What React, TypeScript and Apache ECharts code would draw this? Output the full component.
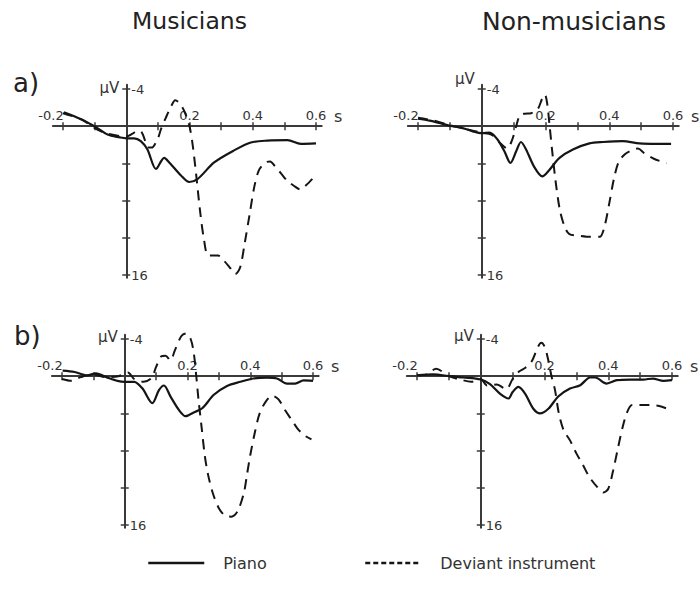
import React, { useEffect, useRef } from 'react';
import * as echarts from 'echarts';

// ---- tick / label values ----
const xTickValues = [-0.2, -0.1, 0, 0.1, 0.2, 0.3, 0.4, 0.5, 0.6];
const xLabelValues = [-0.2, 0.2, 0.4, 0.6];
const yTickValues = [-4, 0, 4, 8, 12, 16];
const yLabelValues = [-4, 16];
const groupTitles = ['Musicians', 'Non-musicians'];
const rowLabels = ['a)', 'b)'];
const seriesNames = ['Piano', 'Deviant instrument'];
const xUnit = 's';
const yUnit = 'µV';

// ---- data: [time (s), amplitude (µV)] ----
const aMusPiano = [
  [-0.197, -1.5], [-0.143, -0.75], [-0.096, 0.1], [-0.059, 0.9], [-0.02, 1.2], [0, 1.3],
  [0.025, 1.3], [0.046, 1.6], [0.067, 2.5], [0.094, 4.6], [0.12, 3.4], [0.136, 3.9],
  [0.173, 5.3], [0.199, 6.0], [0.225, 5.7], [0.278, 3.9], [0.341, 2.6], [0.394, 1.75],
  [0.446, 1.55], [0.51, 1.5], [0.552, 1.9], [0.6, 1.85],
];
const aMusDeviant = [
  [-0.2, -1.4], [-0.14, -0.7], [-0.1, 0.2], [-0.06, 0.8], [0, 1.1], [0.02, 0.8],
  [0.035, 0.5], [0.048, 0.6], [0.06, 1.6], [0.068, 2.3], [0.08, 2.3], [0.1, 1.3],
  [0.11, 0.3], [0.125, -0.9], [0.14, -2.0], [0.155, -2.8], [0.17, -2.4], [0.185, -1.5],
  [0.2, 0], [0.21, 2], [0.222, 5.5], [0.233, 9], [0.245, 12], [0.26, 13.9], [0.29, 13.9],
  [0.31, 14.5], [0.33, 15.3], [0.345, 15.9], [0.36, 15.2], [0.375, 12.5], [0.39, 9.5],
  [0.405, 6.5], [0.42, 4.7], [0.44, 3.9], [0.455, 3.8], [0.47, 4.3], [0.49, 5.1],
  [0.51, 5.9], [0.53, 6.4], [0.55, 6.8], [0.57, 6.3], [0.59, 5.6],
];
const aNonPiano = [
  [-0.2, -0.8], [-0.164, -0.6], [-0.133, -0.35], [-0.1, -0.05], [-0.06, 0.2], [-0.028, 0.55],
  [0, 0.75], [0.024, 0.7], [0.05, 1.45], [0.071, 2.7], [0.09, 3.95], [0.108, 2.7],
  [0.123, 1.7], [0.139, 2.5], [0.165, 4.4], [0.19, 5.4], [0.212, 4.7], [0.244, 3.4],
  [0.286, 2.5], [0.338, 1.85], [0.38, 1.7], [0.442, 1.6], [0.495, 1.85], [0.547, 1.9],
  [0.594, 1.9],
];
const aNonDeviant = [
  [-0.2, -0.9], [-0.15, -0.6], [-0.1, -0.1], [-0.05, 0.3], [0, 0.7], [0.03, 0.9],
  [0.06, 1.9], [0.08, 2.4], [0.095, 1.5], [0.108, 0], [0.12, -1.2], [0.135, -1.35],
  [0.155, -1.4], [0.175, -1.8], [0.19, -3.0], [0.198, -3.4], [0.205, -2.5], [0.213, 0],
  [0.222, 3], [0.232, 6], [0.245, 9], [0.26, 10.8], [0.275, 11.6], [0.31, 11.8],
  [0.34, 11.9], [0.37, 11.9], [0.385, 10.8], [0.4, 8.3], [0.415, 5.6], [0.43, 3.8],
  [0.45, 3.0], [0.47, 2.6], [0.49, 2.4], [0.51, 2.9], [0.54, 3.5], [0.58, 4.0],
];
const bMusPiano = [
  [-0.198, -0.6], [-0.16, -0.45], [-0.12, -0.1], [-0.092, -0.3], [-0.055, 0.15], [-0.023, 0.5],
  [0, 0.6], [0.03, 0.6], [0.056, 1.3], [0.088, 2.9], [0.109, 1.5], [0.125, 1.0],
  [0.146, 2.2], [0.173, 3.65], [0.194, 4.3], [0.22, 3.9], [0.247, 3.45], [0.284, 2.0],
  [0.326, 1.05], [0.369, 0.6], [0.41, 0.25], [0.453, 0.15], [0.485, 0.25], [0.517, 0.8],
  [0.543, 0.8], [0.57, 0.45], [0.6, 0.5],
];
const bMusDeviant = [
  [-0.2, 0.3], [-0.17, 0.5], [-0.14, 0.1], [-0.1, -0.2], [-0.06, 0.1], [-0.02, 0.0],
  [0.01, -0.4], [0.03, 0.3], [0.06, 0.6], [0.085, 0.2], [0.1, -1.0], [0.115, -2.1],
  [0.13, -2.2], [0.145, -1.7], [0.16, -2.8], [0.18, -4.3], [0.195, -4.6], [0.21, -4.0],
  [0.22, -2.5], [0.228, 0], [0.235, 2.5], [0.245, 5.5], [0.255, 8.5], [0.265, 10.5],
  [0.28, 12.5], [0.3, 14.2], [0.32, 15.0], [0.34, 15.1], [0.36, 14.5], [0.38, 12.5],
  [0.39, 10.5], [0.4, 8.5], [0.415, 6.0], [0.43, 4.0], [0.45, 2.7], [0.47, 2.1],
  [0.49, 2.5], [0.51, 3.6], [0.53, 4.6], [0.55, 5.6], [0.57, 6.3], [0.595, 6.8],
];
const bNonPiano = [
  [-0.2, -0.1], [-0.149, -0.2], [-0.096, 0], [-0.054, 0.14], [0, 0.36], [0.029, 0.86],
  [0.06, 1.87], [0.087, 2.4], [0.1, 1.7], [0.118, 1.15], [0.139, 1.87], [0.165, 3.5],
  [0.186, 4.0], [0.212, 3.5], [0.244, 2.15], [0.28, 1.33], [0.312, 0.97], [0.343, 0.14],
  [0.359, 0.14], [0.395, 0.79], [0.427, 0.43], [0.469, 0.36], [0.51, 0.36], [0.54, 0.25],
  [0.573, 0.5], [0.6, 0.43],
];
const bNonDeviant = [
  [-0.2, -0.1], [-0.17, -0.2], [-0.14, -0.8], [-0.1, 0], [-0.06, 0.4], [-0.03, 0.6],
  [0, 0.3], [0.02, 1.0], [0.05, 0.9], [0.08, 1.4], [0.1, 0.3], [0.12, -0.5], [0.14, -0.9],
  [0.16, -1.6], [0.18, -3.2], [0.19, -3.6], [0.2, -3.2], [0.21, -2.0], [0.222, 0],
  [0.233, 1.5], [0.245, 4.0], [0.26, 5.8], [0.28, 6.9], [0.3, 8.3], [0.32, 9.5],
  [0.34, 10.8], [0.365, 11.9], [0.385, 12.5], [0.4, 12.1], [0.415, 10.2], [0.43, 7.8],
  [0.445, 5.5], [0.46, 3.8], [0.475, 3.1], [0.5, 3.1], [0.53, 3.1], [0.56, 3.2],
  [0.585, 3.5],
];

// ---- layout (pixel positions of t=-0.2, t=0.6, v=-4, v=16 for each panel) ----
const PANELS = [
  { piano: aMusPiano, deviant: aMusDeviant, x0: 63, x1: 316, y0: 89, y1: 275, unitDy: -1 },
  { piano: aNonPiano, deviant: aNonDeviant, x0: 418, x1: 673, y0: 89, y1: 275, unitDy: -10 },
  { piano: bMusPiano, deviant: bMusDeviant, x0: 62, x1: 313, y0: 339, y1: 525, unitDy: -2 },
  { piano: bNonPiano, deviant: bNonDeviant, x0: 417, x1: 672, y0: 339, y1: 525, unitDy: -3 },
];
const XMIN = -0.232;
const XMAX = 0.618;
const YMIN = -4.45;
const YMAX = 16.3;

const FONT = 'DejaVu Sans';
const AX = '#3a3a3a';
const TXT = '#333';
const LINE = '#151515';

function buildOption() {
  const grid: any[] = [];
  const xAxis: any[] = [];
  const yAxis: any[] = [];
  const series: any[] = [];
  const graphic: any[] = [];

  PANELS.forEach((p, i) => {
    const sx = (p.x1 - p.x0) / 0.8;
    const sy = (p.y1 - p.y0) / 20;
    const g = {
      left: p.x0 + (XMIN + 0.2) * sx,
      top: p.y0 + (YMIN + 4) * sy,
      width: (XMAX - XMIN) * sx,
      height: (YMAX - YMIN) * sy,
    };
    const zx = p.x0 + 0.2 * sx;
    const zy = p.y0 + 4 * sy;
    grid.push({ ...g, containLabel: false, outerBoundsMode: 'none' });

    const tickStyle = { color: AX, width: 1.5 };
    xAxis.push({
      type: 'value', gridIndex: i, position: 'top', min: XMIN, max: XMAX,
      offset: g.top - zy,
      axisLine: { show: true, onZero: false, lineStyle: { color: AX, width: 2 } },
      axisTick: { show: true, customValues: xTickValues, length: 4, lineStyle: tickStyle },
      axisLabel: {
        show: true, customValues: xLabelValues, margin: 4, color: TXT, fontSize: 13, fontFamily: FONT,
        formatter: (v: number) => (v < 0 ? `{neg|${v.toFixed(1)}}` : v.toFixed(1)),
        rich: { neg: { padding: [0, 24, 0, 0], color: TXT, fontSize: 13, fontFamily: FONT } },
      },
      splitLine: { show: false },
    });
    xAxis.push({
      type: 'value', gridIndex: i, position: 'bottom', min: XMIN, max: XMAX,
      offset: zy - (g.top + g.height),
      axisLine: { show: false, onZero: false },
      axisTick: { show: true, customValues: xTickValues, length: 4, lineStyle: tickStyle },
      axisLabel: { show: false },
      splitLine: { show: false },
    });
    yAxis.push({
      type: 'value', gridIndex: i, position: 'right', min: YMIN, max: YMAX, inverse: true,
      offset: zx - (g.left + g.width),
      axisLine: { show: true, onZero: false, lineStyle: { color: AX, width: 2 } },
      axisTick: { show: true, customValues: yTickValues, length: 4, lineStyle: tickStyle },
      axisLabel: {
        show: true, customValues: yLabelValues, margin: 5, color: TXT, fontSize: 13, fontFamily: FONT,
        formatter: (v: number) => String(v),
      },
      splitLine: { show: false },
    });
    yAxis.push({
      type: 'value', gridIndex: i, position: 'left', min: YMIN, max: YMAX, inverse: true,
      offset: g.left - zx,
      axisLine: { show: false, onZero: false },
      axisTick: { show: true, customValues: yTickValues, length: 4, lineStyle: tickStyle },
      axisLabel: { show: false },
      splitLine: { show: false },
    });

    series.push({
      name: seriesNames[0], type: 'line', xAxisIndex: 2 * i, yAxisIndex: 2 * i,
      data: p.piano, symbol: 'none', showSymbol: false, smooth: 0.3, clip: false,
      lineStyle: { color: LINE, width: 2.2, type: 'solid' }, itemStyle: { color: LINE },
    });
    series.push({
      name: seriesNames[1], type: 'line', xAxisIndex: 2 * i, yAxisIndex: 2 * i,
      data: p.deviant, symbol: 'none', showSymbol: false, smooth: 0.3, clip: false,
      lineStyle: { color: LINE, width: 2, type: [10, 7] }, itemStyle: { color: LINE },
    });

    // unit labels
    graphic.push({
      type: 'text', x: zx - 7, y: p.y0 + p.unitDy,
      style: { text: yUnit, fill: TXT, fontSize: 15, fontFamily: FONT, align: 'right', verticalAlign: 'middle', textAlign: 'right', textVerticalAlign: 'middle' },
    });
    graphic.push({
      type: 'text', x: p.x1 + 18, y: zy - 10,
      style: { text: xUnit, fill: TXT, fontSize: 16, fontFamily: FONT, align: 'left', verticalAlign: 'middle', textAlign: 'left', textVerticalAlign: 'middle' },
    });
  });

  const titlePos = [[132, 21, 23.5], [482, 21, 25]];
  groupTitles.forEach((t, i) => {
    graphic.push({
      type: 'text', x: titlePos[i][0], y: titlePos[i][1],
      style: { text: t, fill: '#222', fontSize: titlePos[i][2], fontFamily: FONT, align: 'left', verticalAlign: 'middle', textAlign: 'left', textVerticalAlign: 'middle' },
    });
  });
  const rowPos = [[13, 83], [14, 336]];
  rowLabels.forEach((t, i) => {
    graphic.push({
      type: 'text', x: rowPos[i][0], y: rowPos[i][1],
      style: { text: t, fill: '#222', fontSize: 26, fontFamily: FONT, align: 'left', verticalAlign: 'middle', textAlign: 'left', textVerticalAlign: 'middle' },
    });
  });

  const legendText = { fontSize: 16, color: TXT, fontFamily: FONT, padding: [0, 0, 0, 14] };
  const hiddenSymbol = { opacity: 0, color: 'rgba(0,0,0,0)', borderWidth: 0 };
  const legend = [
    {
      data: [{ name: seriesNames[0], lineStyle: { type: 'solid', width: 2.5, color: LINE, opacity: 1 }, itemStyle: hiddenSymbol }],
      left: 147, top: 555, padding: 0, itemWidth: 56, itemHeight: 16, selectedMode: false, textStyle: legendText,
    },
    {
      data: [{ name: seriesNames[1], lineStyle: { type: [5, 3], width: 2.5, color: LINE, opacity: 1 }, itemStyle: hiddenSymbol }],
      left: 364, top: 555, padding: 0, itemWidth: 56, itemHeight: 16, selectedMode: false, textStyle: legendText,
    },
  ];

  return {
    animation: false,
    backgroundColor: '#fff',
    grid, xAxis, yAxis, series, legend, graphic,
  };
}

export default function App() {
  const ref = useRef<HTMLDivElement>(null);
  useEffect(() => {
    document.body.style.margin = '0';
    const chart = echarts.init(ref.current as HTMLDivElement, null, { renderer: 'svg' });
    chart.setOption(buildOption() as any);
    return () => chart.dispose();
  }, []);
  return (
    <div
      ref={ref}
      style={{ position: 'absolute', left: 0, top: 0, width: 700, height: 591, background: '#fff' }}
    />
  );
}
